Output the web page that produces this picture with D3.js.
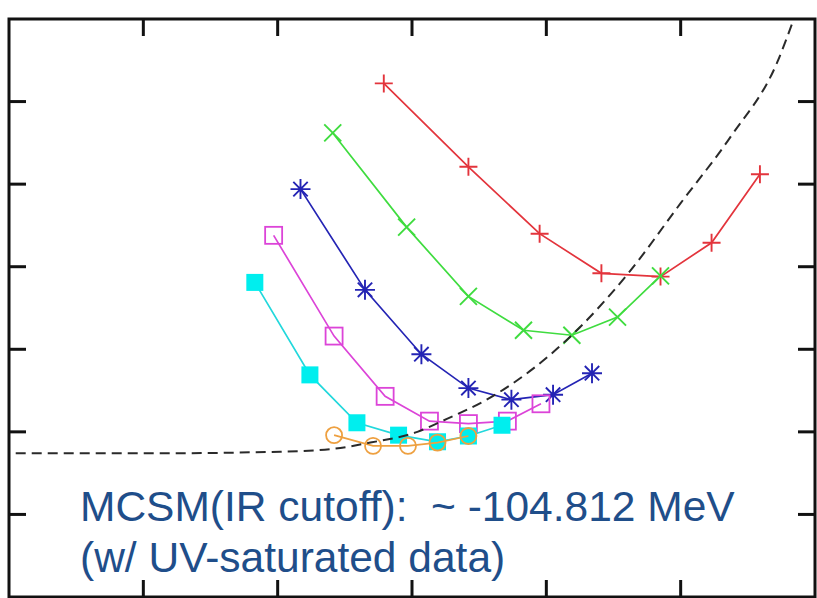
<!DOCTYPE html>
<html>
<head>
<meta charset="utf-8">
<script src="https://cdn.jsdelivr.net/npm/d3@7"></script>
<style>
  body { margin: 0; background: #fff; }
  svg { display: block; }
</style>
</head>
<body>
<div id="wrapper"></div>
<script>
// series (x, y in axis units, no labels shown)
const redX = [2.79, 3.42, 3.95, 4.41, 4.85, 5.23, 5.59];
const redY = [6.22, 5.21, 4.40, 3.92, 3.88, 4.29, 5.12];
const greenX = [2.41, 2.96, 3.42, 3.83, 4.19, 4.53, 4.85];
const greenY = [5.62, 4.48, 3.64, 3.23, 3.17, 3.39, 3.89];
const blueX = [2.17, 2.65, 3.07, 3.42, 3.74, 4.05, 4.34];
const blueY = [4.94, 3.72, 2.94, 2.53, 2.39, 2.45, 2.71];
const magentaX = [1.97, 2.42, 2.80, 3.13, 3.42, 3.71, 3.96];
const magentaY = [4.38, 3.16, 2.43, 2.13, 2.10, 2.13, 2.34];
const cyanX = [1.83, 2.24, 2.59, 2.90, 3.19, 3.42, 3.67];
const cyanY = [3.81, 2.69, 2.11, 1.96, 1.88, 1.95, 2.08];
const orangeX = [2.42, 2.71, 2.97, 3.19, 3.42];
const orangeY = [1.96, 1.83, 1.83, 1.87, 1.95];
// extrapolation curve (dashed)
const fitX = [0.05, 1.05, 2.02, 2.39, 2.69, 3.04, 3.21, 3.64, 4.15, 4.61, 5.00, 5.37, 5.72, 5.84];
const fitY = [1.74, 1.74, 1.76, 1.79, 1.87, 2.00, 2.12, 2.47, 3.11, 3.92, 4.77, 5.57, 6.48, 6.99];
const xTicks = [0, 1, 2, 3, 4, 5, 6];
const yTicks = [0, 1, 2, 3, 4, 5, 6, 7];
const noteLines = ["MCSM(IR cutoff):  ~ -104.812 MeV", "(w/ UV-saturated data)"];

const dim = {
    width: 817,
    height: 598,
    left: 9,
    right: 815,
    top: 19,
    bottom: 597
};

const svg = d3.select("#wrapper").append("svg")
    .attr("width", dim.width)
    .attr("height", dim.height);

const x = d3.scaleLinear().domain([0, 6]).range([dim.left, dim.right]);
const y = d3.scaleLinear().domain([0, 7]).range([dim.bottom, dim.top]);

function zip(xs, ys) {
    return xs.map((v, i) => ({ x: v, y: ys[i] }));
}

// marker paths
function plusPath(s) { return `M${-s},0H${s}M0,${-s}V${s}`; }
function timesPath(s) { return `M${-s},${-s}L${s},${s}M${-s},${s}L${s},${-s}`; }
function starPath(s) {
    const d = s * 0.72;
    return plusPath(s) + timesPath(d);
}

const series = [
    { xs: redX, ys: redY, color: "#e3343c", kind: "plus" },
    { xs: greenX, ys: greenY, color: "#3fdc3f", kind: "times" },
    { xs: blueX, ys: blueY, color: "#2424b4", kind: "star" },
    { xs: magentaX, ys: magentaY, color: "#dc44d8", kind: "square" },
    { xs: cyanX, ys: cyanY, color: "#22d8dc", fill: "#00eeee", kind: "fsquare" },
    { xs: orangeX, ys: orangeY, color: "#eea040", kind: "circle" }
];

const line = d3.line().x(d => x(d.x)).y(d => y(d.y));

series.forEach(s => {
    const pts = zip(s.xs, s.ys);
    const g = svg.append("g");
    g.append("path")
        .datum(pts)
        .attr("d", line)
        .attr("fill", "none")
        .attr("stroke", s.color)
        .attr("stroke-width", 1.7);
    const m = g.selectAll(".m").data(pts).enter();
    if (s.kind === "plus" || s.kind === "times" || s.kind === "star") {
        const size = s.kind === "plus" ? 9 : s.kind === "times" ? 8.5 : 10;
        const fn = s.kind === "plus" ? plusPath : s.kind === "times" ? timesPath : starPath;
        m.append("path")
            .attr("transform", d => `translate(${x(d.x)},${y(d.y)})`)
            .attr("d", fn(size))
            .attr("fill", "none")
            .attr("stroke", s.color)
            .attr("stroke-width", 1.9);
    } else if (s.kind === "square" || s.kind === "fsquare") {
        const h = 8.5;
        m.append("rect")
            .attr("x", d => x(d.x) - h)
            .attr("y", d => y(d.y) - h)
            .attr("width", h * 2)
            .attr("height", h * 2)
            .attr("fill", s.kind === "fsquare" ? s.fill : "none")
            .attr("stroke", s.kind === "fsquare" ? "none" : s.color)
            .attr("stroke-width", 1.8);
    } else {
        m.append("circle")
            .attr("cx", d => x(d.x))
            .attr("cy", d => y(d.y))
            .attr("r", 8)
            .attr("fill", "none")
            .attr("stroke", s.color)
            .attr("stroke-width", 1.8);
    }
});

// dashed extrapolation
svg.append("path")
    .datum(zip(fitX, fitY))
    .attr("d", d3.line().x(d => x(d.x)).y(d => y(d.y)).curve(d3.curveMonotoneX))
    .attr("fill", "none")
    .attr("stroke", "#2a2a2a")
    .attr("stroke-width", 2)
    .attr("stroke-dasharray", "10,6");

// frame and inward ticks
const frame = svg.append("g").attr("stroke", "#111").attr("stroke-width", 3);
frame.append("rect")
    .attr("x", dim.left).attr("y", dim.top)
    .attr("width", dim.right - dim.left).attr("height", dim.bottom - dim.top)
    .attr("fill", "none");
const tl = 17;
xTicks.slice(1, -1).forEach(t => {
    frame.append("line").attr("x1", x(t)).attr("x2", x(t)).attr("y1", dim.top).attr("y2", dim.top + tl);
    frame.append("line").attr("x1", x(t)).attr("x2", x(t)).attr("y1", dim.bottom).attr("y2", dim.bottom - tl);
});
yTicks.slice(1, -1).forEach(t => {
    frame.append("line").attr("x1", dim.left).attr("x2", dim.left + tl).attr("y1", y(t)).attr("y2", y(t));
    frame.append("line").attr("x1", dim.right).attr("x2", dim.right - tl).attr("y1", y(t)).attr("y2", y(t));
});

// annotation
svg.append("g").selectAll("text")
    .data(noteLines)
    .enter()
    .append("text")
    .attr("x", 80)
    .attr("y", (d, i) => 521 + i * 51)
    .style("white-space", "pre")
    .attr("font-family", "Liberation Sans, Arial, sans-serif")
    .attr("font-size", 42.5)
    .attr("fill", "#1f4e8a")
    .text(d => d);
</script>
</body>
</html>
